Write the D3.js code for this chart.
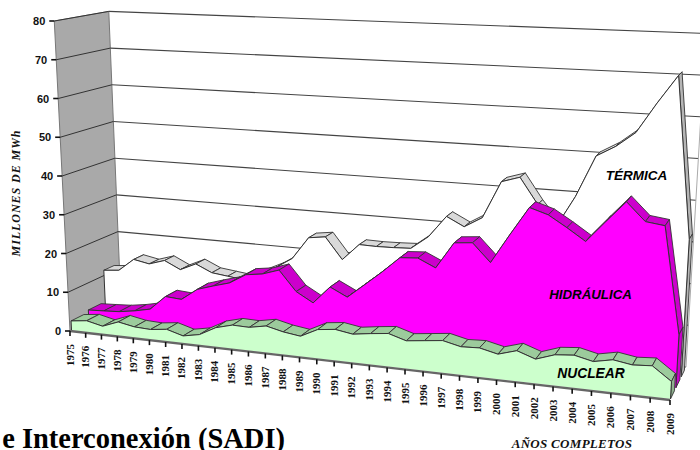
<!DOCTYPE html>
<html><head><meta charset="utf-8">
<script src="https://cdn.jsdelivr.net/npm/d3@7/dist/d3.min.js"></script>
<style>html,body{margin:0;padding:0;background:#fff;overflow:hidden}svg{display:block}</style>
</head><body><svg id="c" width="700" height="450"></svg>
<script>
const years = d3.range(1975, 2010);
const termica = [11.4,11.8,15.1,14.3,15.6,13.6,15.5,13.6,13.1,12.6,14.6,16.6,19.3,25,25.6,20.2,24.4,24.3,24.4,24.6,27.9,33.3,31.1,33.7,42.9,44.3,38,32.7,40.6,50.7,53.3,56.9,64.2,71,32.5];
const hidraulica = [3.0,3.2,3.45,4.1,5.0,8.7,8.4,11.4,12.7,13.9,16.4,17.0,18.4,13.4,11.0,15.4,13.3,16.8,20.4,24.3,24.6,22.6,29.1,29.5,25.1,32.2,39.1,37.7,35,32.1,37.2,42.2,37.9,37.3,12.3];
const nuclear = [2.4,2.9,1.95,3.5,2.7,2.5,3.0,1.8,2.6,4.8,5.9,5.8,6.6,5.6,5.0,7.1,7.6,6.9,7.5,8.0,6.7,7.2,7.7,6.7,6.9,5.9,7.2,5.7,7.2,7.6,6.6,7.5,6.8,7.1,4.0];
const yTicks = [0,10,20,30,40,50,60,70,80];

const svg = d3.select('#c');
// perspective: years run along the floor with growing spacing
const tau = d3.scaleLinear().domain([1975,2009]).range([0,1]);
const w = 1.13;
const along = y => { const u = tau(y); return u/(w-(w-1)*u); };
const frontX = d3.scaleLinear().domain([0,1]).range([70,670]);
const frontY = d3.scaleLinear().domain([0,1]).range([331,400]);
const backX  = d3.scaleLinear().domain([0,1]).range([121,686]);
const backY  = d3.scaleLinear().domain([0,1]).range([305,367]);
const frontK = d3.scaleLinear().domain([0,1]).range([3.875,4.38]);
const backK  = d3.scaleLinear().domain([0,1]).range([3.67,4.17]);
const mix = (a,b,d)=>a+(b-a)*d;
function pt(year, v, d){
  const s = along(year);
  const bx = mix(frontX(s),backX(s),d), by = mix(frontY(s),backY(s),d);
  const h = v*mix(frontK(s),backK(s),d);
  return [bx + h*(bx-354)/5600, by - h];
}
const line = d3.line();
const poly = (pts,fill,stroke,sw)=>svg.append('path').attr('d',line(pts)+'Z')
  .attr('fill',fill).attr('stroke',stroke||'none').attr('stroke-width',sw||0.8).attr('stroke-linejoin','round');
const seg = (a,b,stroke,sw)=>svg.append('path').attr('d',line([a,b])).attr('fill','none').attr('stroke',stroke).attr('stroke-width',sw);

// side wall
poly([pt(1975,0,0),pt(1975,80,0),pt(1975,80,1),pt(1975,0,1)],'#a9a9a9','#777',1);
// grid
yTicks.forEach(v=>{
  if(v>0) seg(pt(1975,v,0),pt(1975,v,1),'#333',1);
  seg(pt(1975,v,1),pt(2009,v,1),'#444',1.1);
});
seg(pt(2009,0,1),pt(2009,80,1),'#aaa',1);

function series(vals, d0, d1, face, rib, lastRib, end){
  const n=years.length-1;
  for(let i=0;i<n;i++){
    poly([pt(years[i],vals[i],d0),pt(years[i+1],vals[i+1],d0),pt(years[i+1],vals[i+1],d1),pt(years[i],vals[i],d1)],i===n-1?lastRib:rib,'#333',0.9);
  }
  poly([pt(years[n],0,d0),pt(years[n],vals[n],d0),pt(years[n],vals[n],d1),pt(years[n],0,d1)],end,'#333',0.9);
  const top = years.map((y,i)=>pt(y,vals[i],d0));
  poly([pt(years[0],0,d0),...top,pt(years[n],0,d0)],face,'none');
  svg.append('path').attr('d',line([pt(years[0],0,d0),...top,pt(years[n],0,d0)])).attr('fill','none').attr('stroke','#333').attr('stroke-width',1);
}
series(termica,0.70,0.90,'#ffffff','#d9d9d9','#b5b5b5','#b5b5b5');
series(hidraulica,0.37,0.62,'#ff00ff','#cc00cc','#cc00cc','#cc00cc');
series(nuclear,0.03,0.28,'#ccffcc','#9ccb9c','#9ccb9c','#8fb08f');

// floor edge and ticks
seg(pt(1975,0,0),pt(2009,0,0),'#666',2.4);
years.forEach(y=>{
  const p=pt(y,0,0);
  seg([p[0],p[1]],[p[0],p[1]+5],'#111',1.6);
  svg.append('text').attr('transform',`translate(${p[0]+3.5},${p[1]+13}) rotate(-90)`)
    .attr('text-anchor','end').attr('font-family','Liberation Serif').attr('font-weight','bold')
    .attr('font-size',11).attr('fill','#111').text(y);
});
yTicks.forEach(v=>{
  const p=pt(1975,v,0);
  seg([p[0]-5,p[1]],p,'#111',1.6);
  svg.append('text').attr('x',p[0]-9).attr('y',p[1]+4).attr('text-anchor','end')
    .attr('font-family','Liberation Sans').attr('font-weight','bold').attr('font-size',11).attr('fill','#111').text(v);
});

const label=(t,x,y,size)=>svg.append('text').attr('x',x).attr('y',y).attr('text-anchor','middle')
  .attr('font-family','Liberation Sans').attr('font-weight','bold').attr('font-style','italic')
  .attr('font-size',size).attr('fill','#000').text(t);
label('TÉRMICA',636.5,180,13.5);
label('HIDRÁULICA',590.5,299,13.3);
label('NUCLEAR',591,378,13.8);

svg.append('text').attr('transform','translate(20,193) rotate(-90)').attr('text-anchor','middle')
  .attr('font-family','Liberation Serif').attr('font-weight','bold').attr('font-style','italic')
  .attr('font-size',12).attr('letter-spacing',0.95).attr('fill','#111').text('MILLONES DE MWh');
svg.append('text').attr('x',572).attr('y',448).attr('text-anchor','middle')
  .attr('font-family','Liberation Serif').attr('font-weight','bold').attr('font-style','italic')
  .attr('font-size',13).attr('letter-spacing',0.3).attr('fill','#111').text('AÑOS COMPLETOS');
svg.append('text').attr('x',285).attr('y',448).attr('text-anchor','end')
  .attr('font-family','Liberation Serif').attr('font-weight','bold')
  .attr('font-size',28.5).attr('fill','#000').text('e Interconexión (SADI)');
</script></body></html>
